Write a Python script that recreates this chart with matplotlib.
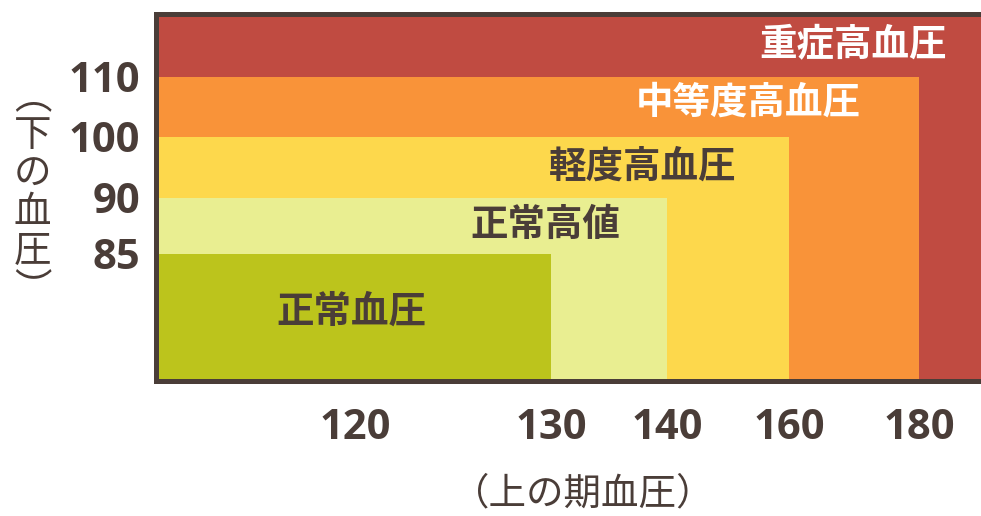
import numpy as np
import matplotlib
matplotlib.use('Agg')
import matplotlib.pyplot as plt

plt.rcParams['font.family'] = ['Noto Sans CJK JP', 'DejaVu Sans']

# blood pressure categories (drawn largest first)
categories = ['重症高血圧', '中等度高血圧', '軽度高血圧', '正常高値', '正常血圧']
colors = ['#c04b41', '#f99339', '#fdd84c', '#e9ee91', '#bcc41c']
text_colors = ['white', 'white', '#4a3d38', '#4a3d38', '#4a3d38']
sys_upper = [190, 180, 160, 140, 130]   # 190 = open end (axis limit)
dia_upper = [120, 110, 100, 90, 85]     # 120 = open end (axis limit)

x_ticks = [120, 130, 140, 160, 180]
y_ticks = [85, 90, 100, 110]
x_min, y_min = 110, 75

# label anchor points (data units)
label_x = [169.8, 153.3, 137.9, 129.7, 119.8]
label_y = [115.4, 105.8, 95.2, 87.6, 80.5]

# the original chart uses uneven spacing between the tick values
x_knots = [110, 120, 130, 140, 160, 180, 190]
x_space = [0, 198.5, 394.5, 510.5, 632.5, 762.5, 824.5]
y_knots = [75, 85, 90, 100, 110, 120]
y_space = [0, 127.5, 183.5, 244.5, 304.5, 367]

def fx(v):
    return np.interp(v, x_knots, x_space)

def ix(p):
    return np.interp(p, x_space, x_knots)

def fy(v):
    return np.interp(v, y_knots, y_space)

def iy(p):
    return np.interp(p, y_space, y_knots)

dark = '#4a3d38'

fig = plt.figure(figsize=(9.81, 5.16), dpi=100)
ax = fig.add_axes([0.1595, 0.2607, 0.8405, 0.7112])
ax.set_xscale('function', functions=(fx, ix))
ax.set_yscale('function', functions=(fy, iy))

for i, cat in enumerate(categories):
    ax.bar(x_min, dia_upper[i] - y_min, width=sys_upper[i] - x_min, bottom=y_min,
           align='edge', color=colors[i], linewidth=0)
    ax.text(label_x[i], label_y[i], cat, color=text_colors[i], fontsize=27,
            fontweight='bold', ha='center', va='center')

ax.set_xlim(x_min, 190)
ax.set_ylim(y_min, 120)

ax.set_xticks(x_ticks)
ax.set_xticklabels([str(t) for t in x_ticks])
ax.set_yticks(y_ticks)
ax.set_yticklabels([str(t) for t in y_ticks])
ax.minorticks_off()
ax.tick_params(length=0, labelsize=30, labelcolor=dark)
ax.tick_params(axis='x', pad=19)
ax.tick_params(axis='y', pad=12)
for lab in ax.get_xticklabels() + ax.get_yticklabels():
    lab.set_fontweight('bold')
    lab.set_family(['Open Sans', 'DejaVu Sans'])

for side in ['left', 'top', 'bottom']:
    ax.spines[side].set_linewidth(3.6)
    ax.spines[side].set_color(dark)
ax.spines['right'].set_visible(False)

fig.text(0.5945, 0.043, '（上の期血圧）', fontsize=27, color=dark,
         ha='center', va='center')
fig.text(0.033, 0.625, '\n'.join('︵下の血圧︶'), fontsize=27, color=dark,
         ha='center', va='center', linespacing=0.98)

fig.savefig('out.png', dpi=100)
